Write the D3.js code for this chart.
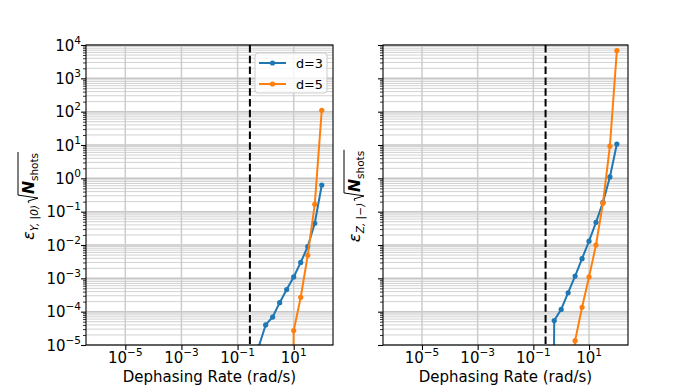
<!DOCTYPE html>
<html><head><meta charset="utf-8">
<script src="https://cdn.jsdelivr.net/npm/d3@7"></script>
<style>
html,body{margin:0;padding:0;background:#fff;}
svg{display:block;font-family:"DejaVu Sans",sans-serif;}
</style></head>
<body><svg id="chart" width="698" height="388"></svg>
<script>
// ---------------- data ----------------
const seriesNames = ["d=3", "d=5"];
const seriesColors = ["#1f77b4", "#ff7f0e"];
// left panel: epsilon_{Y,|0>}
const leftD3x = [0.5623, 1, 1.778, 3.162, 5.623, 10, 17.78, 31.62, 56.23, 100];
const leftD3y = [8.7e-6, 4.0e-5, 6.9e-5, 1.86e-4, 4.6e-4, 1.1e-3, 3.0e-3, 9.0e-3, 4.5e-2, 0.63];
const leftD5x = [5.623, 10, 17.78, 31.62, 56.23, 100];
const leftD5y = [0, 2.7e-5, 2.7e-4, 4.9e-3, 0.166, 110];
// right panel: epsilon_{Z,|->}
const rightD3x = [0.3162, 0.5623, 1, 1.778, 3.162, 5.623, 10, 17.78, 31.62, 56.23, 100];
const rightD3y = [0, 5.4e-5, 1.17e-4, 3.7e-4, 1.17e-3, 3.9e-3, 1.3e-2, 4.8e-2, 0.19, 1.1, 10.7];
const rightD5x = [1.778, 3.162, 5.623, 10, 17.78, 31.62, 56.23, 100];
const rightD5y = [0, 1.35e-5, 1.35e-4, 1.1e-3, 1.0e-2, 0.18, 9.3, 6800];
const thresholdRate = 0.275;
const xTickValues = [1e-5, 1e-3, 1e-1, 1e1];
const xTickExps = ["\u22125", "\u22123", "\u22121", "1"];
const yTickValues = [1e-5, 1e-4, 1e-3, 1e-2, 1e-1, 1e0, 1e1, 1e2, 1e3, 1e4];
const yTickExps = ["\u22125", "\u22124", "\u22123", "\u22122", "\u22121", "0", "1", "2", "3", "4"];
const xDomain = [Math.pow(10, -6.4), Math.pow(10, 2.4)];
const yDomain = [1e-5, 1e4];
const xLabel = "Dephasing Rate (rad/s)";

// ---------------- layout ----------------
const svg = d3.select("#chart");
const topY = 45, bottomY = 345;
const panels = [
  {left: 86, right: 333, series: [[leftD3x, leftD3y], [leftD5x, leftD5y]], sub: "Y, |0\u27E9", showY: true, legend: true, labelX: 34},
  {left: 383, right: 628, series: [[rightD3x, rightD3y], [rightD5x, rightD5y]], sub: "Z, |\u2212\u27E9", showY: false, legend: false, labelX: 360}
];

// minor y ticks
const yMinor = [];
for (let e = -5; e < 4; e++) for (let m = 2; m <= 9; m++) yMinor.push(m * Math.pow(10, e));

panels.forEach((p, pi) => {
  const x = d3.scaleLog().domain(xDomain).range([p.left, p.right]);
  const y = d3.scaleLog().domain(yDomain).range([bottomY, topY]);
  const g = svg.append("g");
  const clipId = "clip" + pi;
  svg.append("clipPath").attr("id", clipId).append("rect")
    .attr("x", p.left).attr("y", topY).attr("width", p.right - p.left).attr("height", bottomY - topY);

  // grid
  const grid = g.append("g");
  grid.selectAll("line.ymin").data(yMinor).join("line")
    .attr("x1", p.left).attr("x2", p.right)
    .attr("y1", d => y(d)).attr("y2", d => y(d))
    .attr("stroke", "#d2d2d2").attr("stroke-width", 1);
  grid.selectAll("line.ymaj").data(yTickValues).join("line")
    .attr("x1", p.left).attr("x2", p.right)
    .attr("y1", d => y(d)).attr("y2", d => y(d))
    .attr("stroke", "#c6c6c6").attr("stroke-width", 1.5);
  grid.selectAll("line.xmaj").data(xTickValues).join("line")
    .attr("x1", d => x(d)).attr("x2", d => x(d))
    .attr("y1", topY).attr("y2", bottomY)
    .attr("stroke", "#cccccc").attr("stroke-width", 1.5);

  // dashed threshold
  g.append("line")
    .attr("x1", x(thresholdRate)).attr("x2", x(thresholdRate))
    .attr("y1", topY).attr("y2", bottomY)
    .attr("stroke", "#000").attr("stroke-width", 2).attr("stroke-dasharray", "7.5,3.3");

  // series
  const clipG = g.append("g").attr("clip-path", `url(#${clipId})`);
  p.series.forEach(([xs, ys], si) => {
    const pts = xs.map((xv, i) => [xv, Math.max(ys[i], 1e-30)]);
    clipG.append("path")
      .attr("d", d3.line().x(d => x(d[0])).y(d => y(d[1]))(pts))
      .attr("fill", "none").attr("stroke", seriesColors[si]).attr("stroke-width", 2)
      .attr("stroke-linejoin", "round");
    clipG.selectAll("circle.s" + si).data(pts.filter(d => d[1] > 1e-29)).join("circle")
      .attr("cx", d => x(d[0])).attr("cy", d => y(d[1])).attr("r", 2.6)
      .attr("fill", seriesColors[si]);
  });

  // spines
  g.append("rect").attr("x", p.left).attr("y", topY)
    .attr("width", p.right - p.left).attr("height", bottomY - topY)
    .attr("fill", "none").attr("stroke", "#000").attr("stroke-width", 1.1);

  // x axis ticks
  const xAxis = d3.axisBottom(x).tickValues(xTickValues).tickSize(5).tickSizeOuter(0).tickFormat(() => "");
  const xa = g.append("g").attr("transform", `translate(0,${bottomY})`).call(xAxis);
  xa.select(".domain").remove();
  xa.selectAll(".tick line").attr("stroke", "#000").attr("stroke-width", 1.1);
  xa.selectAll(".tick text").remove();
  xTickValues.forEach((v, i) => {
    const t = g.append("text").attr("x", x(v)).attr("y", 363).attr("text-anchor", "middle")
      .attr("font-size", 15).attr("fill", "#000");
    t.append("tspan").text("10");
    t.append("tspan").attr("dy", -7).attr("font-size", 10.5).text(xTickExps[i]);
  });

  // y axis ticks
  const yAxis = d3.axisLeft(y).tickValues(yTickValues).tickSize(5).tickSizeOuter(0).tickFormat(() => "");
  const ya = g.append("g").attr("transform", `translate(${p.left},0)`).call(yAxis);
  ya.select(".domain").remove();
  ya.selectAll(".tick line").attr("stroke", "#000").attr("stroke-width", 1.1);
  ya.selectAll(".tick text").remove();
  const yAxisMinor = d3.axisLeft(y).tickValues(yMinor).tickSize(3).tickSizeOuter(0).tickFormat(() => "");
  const ym = g.append("g").attr("transform", `translate(${p.left},0)`).call(yAxisMinor);
  ym.select(".domain").remove();
  ym.selectAll(".tick line").attr("stroke", "#000").attr("stroke-width", 0.8);
  ym.selectAll(".tick text").remove();
  if (p.showY) {
    yTickValues.forEach((v, i) => {
      const t = g.append("text").attr("x", p.left - 5).attr("y", y(v) + 5.5).attr("text-anchor", "end")
        .attr("font-size", 15).attr("fill", "#000");
      t.append("tspan").text("10");
      t.append("tspan").attr("dy", -7).attr("font-size", 10.5).text(yTickExps[i]);
    });
  }

  // x label
  g.append("text").attr("x", (p.left + p.right) / 2).attr("y", 382).attr("text-anchor", "middle")
    .attr("font-size", 15).attr("fill", "#000").text(xLabel);

  // y label (rotated, built piece by piece)
  const lg = g.append("g");
  let cx = 0;
  const piece = (txt, size, style, weight, dy) => {
    const t = lg.append("text").attr("x", cx).attr("y", dy).attr("font-size", size)
      .attr("font-style", style).attr("font-weight", weight).attr("fill", "#000").text(txt);
    cx += t.node().getComputedTextLength();
    return t;
  };
  piece("\u03B5", 16.5, "italic", "normal", 0);
  piece(p.sub, 10.5, "italic", "normal", 3.5);
  cx += 2;
  const rx0 = cx;
  cx += 9;
  const nStart = cx;
  piece("N", 15.5, "italic", "bold", 0);
  piece("shots", 10.5, "normal", "normal", 3.5);
  cx += 1;
  lg.append("path")
    .attr("d", `M${rx0},-5 L${rx0 + 2},-6 L${rx0 + 5},4 L${nStart - 1},-16 L${cx},-16`)
    .attr("fill", "none").attr("stroke", "#000").attr("stroke-width", 1);
  const total = cx;
  lg.attr("transform", `translate(${p.labelX},${(topY + bottomY) / 2 + total / 2 + 1}) rotate(-90)`);

  // legend
  if (p.legend) {
    const L = {x: 255, y: 53, w: 72, h: 40};
    const leg = g.append("g");
    leg.append("rect").attr("x", L.x).attr("y", L.y).attr("width", L.w).attr("height", L.h)
      .attr("rx", 3).attr("fill", "#fff").attr("fill-opacity", 0.8)
      .attr("stroke", "#cccccc").attr("stroke-width", 1);
    seriesNames.forEach((name, i) => {
      const yy = 63 + i * 21;
      leg.append("line").attr("x1", 259).attr("x2", 286).attr("y1", yy).attr("y2", yy)
        .attr("stroke", seriesColors[i]).attr("stroke-width", 2);
      leg.append("circle").attr("cx", 272.5).attr("cy", yy).attr("r", 2.6).attr("fill", seriesColors[i]);
      leg.append("text").attr("x", 296).attr("y", yy + 4.5).attr("font-size", 12.8).attr("fill", "#000").text(name);
    });
  }
});
</script>
</body></html>
